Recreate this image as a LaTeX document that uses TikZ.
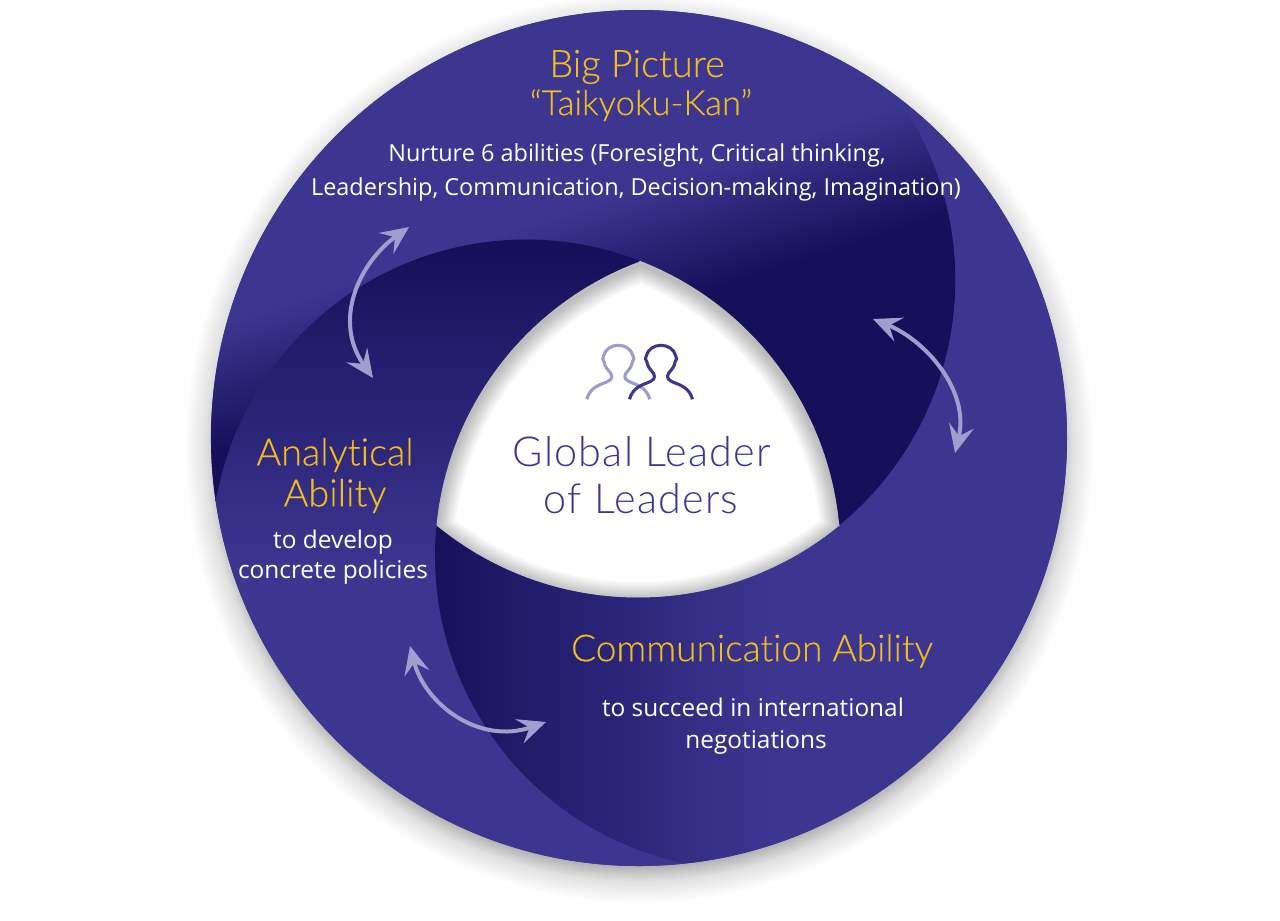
\documentclass[tikz,border=0pt]{standalone}
\usepackage{fontspec}
\usetikzlibrary{arrows.meta}
\setmainfont[Ligatures=NoCommon]{Open Sans}
\newfontfamily\thinfont[Ligatures=NoCommon,FakeBold=0.2]{Lato Light}
\newfontfamily\centerfont[LetterSpace=3,Ligatures=NoCommon]{Lato Light}

\definecolor{ringblue}{RGB}{60,54,145}
\definecolor{ringdark}{RGB}{22,16,90}
\definecolor{headyellow}{RGB}{240,188,30}
\definecolor{arrowlav}{RGB}{160,158,205}
\definecolor{iconlav}{RGB}{158,155,205}

\pgfdeclareradialshading{ringshadow}{\pgfpoint{0bp}{0bp}}{color(0bp)=(black!32); color(22.9bp)=(black!32); color(23.8bp)=(black!12); color(25bp)=(white); color(50bp)=(white)}
\pgfdeclareverticalshading{topfold}{100bp}{color(0bp)=(ringdark); color(44.4bp)=(ringdark); color(54.5bp)=(ringblue); color(100bp)=(ringblue)}
\pgfdeclareverticalshading{leftfold}{100bp}{color(0bp)=(ringblue); color(49bp)=(ringblue); color(73bp)=(ringdark); color(100bp)=(ringdark)}
\pgfdeclarehorizontalshading{rightfold}{100bp}{color(0bp)=(ringdark); color(25bp)=(ringdark); color(50bp)=(ringblue); color(100bp)=(ringblue)}

% points on the four circles, by angle
\newcommand{\onD}[1]{([shift={(639,438)}]#1:428)}
\newcommand{\onA}[1]{([shift={(638,280)}]#1:317.5)}
\newcommand{\onB}[1]{([shift={(526,554)}]#1:314.5)}
\newcommand{\onC}[1]{([shift={(749,556)}]#1:314)}
\newcommand{\holepath}{\onB{-68.8} arc [start angle=-68.8,end angle=-5.3,radius=314.5] -- \onA{50.5} arc [start angle=50.5,end angle=129.4,radius=317.5] -- \onC{185.7} arc [start angle=185.7,end angle=249.5,radius=314] -- cycle}

\tikzset{every picture/.style={line width=0.75pt},
  headtext/.style={text=headyellow,font=\thinfont\fontsize{28.4}{28}\selectfont,inner sep=0.75pt},
  widetext/.style={text=headyellow,font=\thinfont\fontsize{27.8}{28}\selectfont,inner sep=0.75pt},
  subtext/.style={text=headyellow,font=\thinfont\fontsize{26}{26}\selectfont,inner sep=0.75pt},
  bodytext/.style={text=white,font=\fontsize{17.6}{18}\selectfont,inner sep=0.75pt},
  lowtext/.style={text=white,font=\fontsize{18.3}{18}\selectfont,inner sep=0.75pt},
  centertext/.style={text=ringblue,font=\centerfont\fontsize{31}{31}\selectfont,inner sep=0.75pt},
  twoway/.style={draw=arrowlav,line width=3pt,{Stealth[length=21pt,width=19pt,inset=8pt]}-{Stealth[length=21pt,width=19pt,inset=8pt]}},
  person/.pic={
    \draw [line width=2.3pt,line join=round,line cap=butt,pic actions] (-31.5,0) .. controls (-29,9) and (-23,13) .. (-15,16) .. controls (-7,19) and (-5,21) .. (-7.5,26) .. controls (-11,30) and (-13.5,33) .. (-14,37) .. controls (-16,39) and (-16,42) .. (-14.5,44) .. controls (-13,50) and (-7,54) .. (0,54) .. controls (7,54) and (13,50) .. (14.5,44) .. controls (16,42) and (16,39) .. (14,37) .. controls (13.5,33) and (11,30) .. (7.5,26) .. controls (5,21) and (7,19) .. (15,16) .. controls (23,13) and (29,9) .. (31.5,0) ;
  }}

\begin{document}
\begin{tikzpicture}[x=0.75pt,y=0.75pt,yscale=-1,xscale=1]
    \useasboundingbox (0,0) rectangle (1280,920);

    %Shape: Shadow of the ring
    \shade [shading=ringshadow] (639,448) circle [radius=455];

    %Shape: Disk
    \fill [ringblue] (639,438) circle [radius=428];

    %Shape: Top fold
    \shade [shading=topfold,shading angle=18] \onD{172} arc [start angle=172,end angle=308.6,radius=428] -- \onA{-33.2} arc [start angle=-33.2,end angle=50.5,radius=317.5] -- (640,450) -- cycle ;

    %Shape: Left fold
    \shade [shading=leftfold] \onB{-68.8} arc [start angle=-68.8,end angle=-169.5,radius=314.5] -- \onD{172} arc [start angle=172,end angle=83.8,radius=428] -- \onC{101.8} arc [start angle=101.8,end angle=249.5,radius=314] -- cycle ;

    %Shape: Right fold
    \shade [shading=rightfold] \onD{-51.4} arc [start angle=-51.4,end angle=83.8,radius=428] -- \onC{101.8} arc [start angle=101.8,end angle=185.7,radius=314] -- \onA{129.4} arc [start angle=129.4,end angle=-33.2,radius=317.5] -- cycle ;

    %Shape: Hole
    \fill [white] \holepath ;
    \begin{scope}
      \clip \holepath ;
      \foreach \w in {2,4,...,28} {
        \draw [black,opacity=0.018,line width=\w pt,shift={(0,3)}] \holepath ;
      }
    \end{scope}

    %Curve Lines
    \coordinate (topin) at (409,227);
    \coordinate (leftin) at (373,378);
    \draw [twoway] (topin) .. controls (360,262) and (332,320) .. (leftin) ;
    \coordinate (rightout) at (873,319);
    \coordinate (rightin) at (955,453);
    \draw [twoway] (rightout) .. controls (925,340) and (970,390) .. (rightin) ;
    \coordinate (lowleft) at (410,646);
    \coordinate (lowright) at (546,722);
    \draw [twoway] (lowleft) .. controls (425,705) and (480,745) .. (lowright) ;

    %Icons
    \pic [draw=iconlav] at (618.3,399.3) {person};
    \pic [draw=ringblue] at (661,399.3) {person};

    % Text Node
    \draw (637,67) node (bigpicture) [headtext] {Big Picture};
    % Text Node
    \draw (641,105) node (taikyoku) [subtext] {“Taikyoku-Kan”};
    % Text Node
    \draw (637,155) node (nurtureone) [bodytext] {Nurture 6 abilities (Foresight, Critical thinking,};
    % Text Node
    \draw (636,189) node (nurturetwo) [bodytext] {Leadership, Communication, Decision-making, Imagination)};
    % Text Node
    \draw (335,455) node (analytical) [headtext] {Analytical};
    % Text Node
    \draw (335,496) node (ability) [headtext] {Ability};
    % Text Node
    \draw (333,542) node (develop) [lowtext] {to develop};
    % Text Node
    \draw (333,572) node (policies) [lowtext] {concrete policies};
    % Text Node
    \draw (752,651) node (communication) [widetext] {Communication Ability};
    % Text Node
    \draw (753,707) node (succeed) [lowtext] {to succeed in international};
    % Text Node
    \draw (756,742) node (negotiations) [lowtext] {negotiations};
    % Text Node
    \draw (642,452) node (global) [centertext] {Global Leader};
    % Text Node
    \draw (641,499) node (leaders) [centertext] {of Leaders};

\end{tikzpicture}
\end{document}
